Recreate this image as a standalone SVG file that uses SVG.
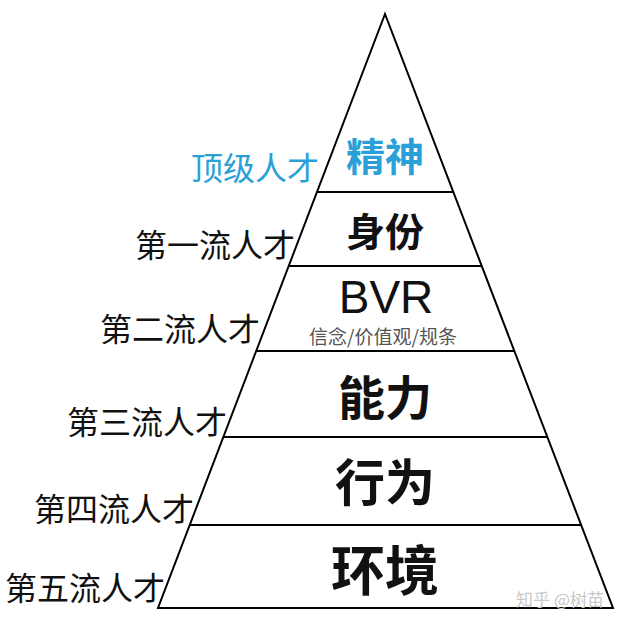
<svg xmlns="http://www.w3.org/2000/svg" width="620" height="623" viewBox="0 0 620 623">
<style>
.ln{stroke:#000;stroke-width:2;fill:none}
.side{font-family:"Noto Sans CJK SC","Noto Sans",sans-serif;font-size:32px;fill:#111;text-anchor:end;dominant-baseline:central}
.in{font-family:"Noto Sans CJK SC","Noto Sans",sans-serif;font-weight:bold;fill:#111;text-anchor:middle;dominant-baseline:central}
</style>
<rect width="620" height="623" fill="#fff"/>
<g id="connectors">
<polygon class="ln" points="385,14 158,608 613,608"/>
<line class="ln" x1="317" y1="192" x2="453" y2="192"/>
<line class="ln" x1="289" y1="266" x2="482" y2="266"/>
<line class="ln" x1="256" y1="351" x2="515" y2="351"/>
<line class="ln" x1="223" y1="437" x2="548" y2="437"/>
<line class="ln" x1="190" y1="525" x2="582" y2="525"/>
</g>
<g id="level-top">
<text class="side" x="319" y="166" style="fill:#2b9fd8">顶级人才</text>
<text class="in" x="385" y="154" font-size="39" style="fill:#2b9fd8">精神</text>
</g>
<g id="level-1">
<text class="side" x="295" y="243">第一流人才</text>
<text class="in" x="385" y="229" font-size="39">身份</text>
</g>
<g id="level-2">
<text class="side" x="260" y="327">第二流人才</text>
<text x="386" y="313" font-family="Liberation Sans, Arial, sans-serif" font-size="46" text-anchor="middle" fill="#111">BVR</text>
<text x="383" y="335" font-family="Noto Sans CJK SC, sans-serif" font-size="19" text-anchor="middle" dominant-baseline="central" fill="#555">信念/价值观/规条</text>
</g>
<g id="level-3">
<text class="side" x="227" y="420">第三流人才</text>
<text class="in" x="385" y="394" font-size="47">能力</text>
</g>
<g id="level-4">
<text class="side" x="194" y="507">第四流人才</text>
<text class="in" x="385" y="479" font-size="50">行为</text>
</g>
<g id="level-5">
<text class="side" x="165" y="586">第五流人才</text>
<text class="in" x="385" y="567" font-size="54">环境</text>
</g>
<text x="604" y="598" font-family="Noto Sans CJK SC, sans-serif" font-size="17" text-anchor="end" dominant-baseline="central" fill="#c8c8c8">知乎 @树苗</text>
</svg>
